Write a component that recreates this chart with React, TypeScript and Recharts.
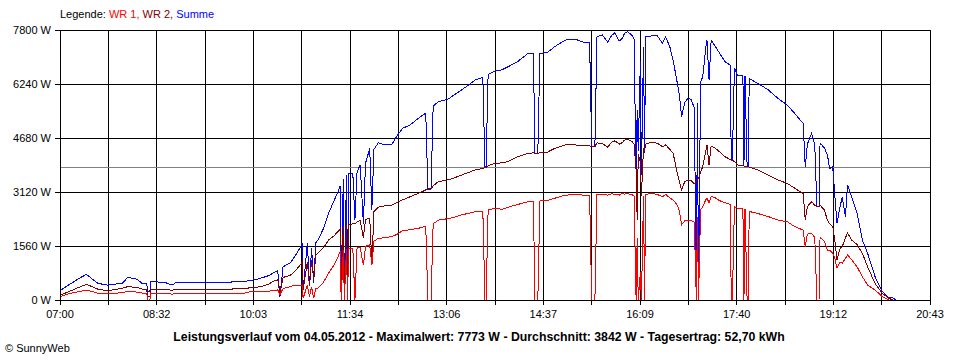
import { LineChart, Line, XAxis, YAxis, CartesianGrid, ReferenceLine } from 'recharts';

// minutes since 07:00
const TIME = [
  0, 9, 19, 25, 30, 36, 45, 52, 59, 64, 73, 78, 82, 83, 85, 86, 99, 106, 110, 132,
  156, 175, 180, 189, 197, 203, 206, 208, 211, 218, 222, 227, 229, 230, 234, 236, 238, 240, 242, 244,
  249, 254, 259, 263, 265, 266, 268, 269, 271, 272, 273, 277, 279, 281, 284, 287, 289, 293, 295, 297,
  301, 307, 314, 319, 324, 331, 339, 346, 348, 351, 353, 358, 367, 374, 380, 386, 393, 400, 402, 403,
  405, 412, 418, 424, 433, 443, 448, 449, 452, 454, 461, 468, 478, 487, 497, 501, 503, 506, 508, 513,
  518, 522, 525, 529, 532, 534, 537, 541, 543, 545, 546, 547, 549, 550, 552, 553, 554, 560, 565, 570,
  573, 577, 580, 584, 586, 588, 591, 594, 597, 600, 602, 603, 604, 606, 608, 611, 612, 614, 616, 620,
  624, 629, 634, 635, 636, 638, 641, 646, 647, 648, 650, 651, 652, 653, 660, 670, 679, 688, 695, 703,
  705, 707, 711, 714, 716, 718, 719, 723, 726, 728, 731, 733, 735, 738, 740, 743, 745, 749, 754, 759,
  764, 771, 778, 784, 788, 791,
];

const WR1 = [
  95, 190, 250, 280, 250, 195, 175, 190, 220, 240, 230, 200, 195, 0, 0, 195, 195, 170, 195, 195,
  195, 200, 240, 240, 250, 280, 290, 150, 330, 385, 430, 430, 430, 50, 430, 100, 380, 50, 330, 340,
  500, 770, 1000, 1250, 1400, 0, 1450, 0, 1480, 0, 1490, 1490, 0, 1500, 1520, 1000, 1550, 1590, 1000, 1700,
  1780, 1800, 1830, 1900, 2000, 2030, 2070, 2130, 0, 0, 2200, 2310, 2350, 2400, 2460, 2500, 2550, 2570, 0, 0,
  2600, 2650, 2620, 2680, 2760, 2840, 2850, 0, 0, 2860, 2870, 2940, 3030, 3040, 3030, 3030, 0, 0, 3060, 3060,
  3030, 3070, 3050, 3030, 3080, 3060, 3070, 3050, 3000, 0, 1800, 0, 800, 0, 3000, 0, 3050, 3080, 3050, 2980,
  3050, 2950, 2890, 2740, 2550, 2170, 2290, 2310, 2300, 2250, 0, 2400, 0, 2600, 2700, 2900, 2950, 2800, 3000, 2950,
  2870, 2810, 2760, 0, 0, 2700, 2650, 2640, 0, 2620, 0, 0, 2560, 2550, 2500, 2410, 2310, 2260, 2120, 2020,
  1540, 1900, 1930, 1810, 0, 0, 1810, 1700, 1440, 1440, 1350, 1200, 920, 1100, 1060, 1200, 1300, 1160, 960, 675,
  430, 290, 95, 0, 0, 0,
];

const WR2 = [
  135, 250, 380, 450, 390, 310, 270, 300, 340, 385, 365, 310, 310, 95, 95, 310, 310, 280, 310, 310,
  310, 330, 355, 380, 450, 560, 580, 200, 650, 720, 820, 1000, 1100, 300, 1100, 400, 1150, 600, 1300, 1350,
  1500, 1730, 1850, 1975, 2050, 385, 2150, 400, 2170, 500, 2170, 2200, 2200, 2250, 2300, 1800, 2330, 2360, 1070, 2550,
  2680, 2720, 2740, 2820, 2890, 2980, 3080, 3180, 3200, 3200, 3300, 3420, 3470, 3540, 3610, 3680, 3760, 3800, 3830, 3830,
  3880, 3950, 3960, 4000, 4140, 4240, 4250, 4240, 4240, 4250, 4270, 4380, 4480, 4480, 4450, 4450, 4430, 4430, 4540, 4520,
  4420, 4560, 4600, 4500, 4550, 4620, 4650, 4580, 4500, 3800, 2300, 4200, 4000, 3000, 4400, 4300, 4500, 4560, 4530, 4430,
  4480, 4350, 4240, 3660, 3400, 3180, 3420, 3470, 3450, 3350, 3400, 3500, 3500, 3700, 3850, 4300, 4480, 3900, 4450, 4380,
  4280, 4140, 4060, 4040, 4040, 4000, 3900, 3880, 3870, 3870, 3860, 3860, 3840, 3830, 3760, 3610, 3470, 3370, 3230, 3080,
  2310, 2700, 2840, 2740, 2700, 2700, 2740, 2600, 2310, 2200, 2120, 1700, 1160, 1500, 1540, 1800, 1930, 1730, 1600, 1350,
  960, 480, 190, 50, 0, 0,
];

const SUMME = [
  270, 450, 640, 740, 620, 480, 430, 460, 480, 655, 600, 470, 470, 240, 240, 530, 510, 430, 510, 510,
  510, 540, 560, 620, 700, 800, 845, 95, 960, 1080, 1250, 1500, 1640, 300, 1640, 400, 1500, 500, 1650, 1730,
  2050, 2500, 2850, 3130, 3300, 385, 3500, 300, 3600, 500, 3660, 3660, 2300, 3700, 3900, 2200, 3950, 4380, 2600, 4350,
  4540, 4480, 4500, 4750, 4960, 5050, 5250, 5400, 3230, 3230, 5600, 5730, 5800, 5950, 6070, 6200, 6360, 6430, 3850, 3850,
  6520, 6620, 6650, 6740, 6890, 7130, 7130, 4240, 4240, 7120, 7150, 7320, 7510, 7540, 7430, 7430, 4430, 4430, 7600, 7660,
  7450, 7650, 7720, 7480, 7560, 7700, 7750, 7650, 7550, 3600, 5500, 4300, 6900, 3600, 7300, 4240, 7600, 7630, 7630, 7420,
  7600, 7300, 6930, 6260, 5900, 5300, 5700, 5830, 5800, 5550, 400, 5700, 300, 6300, 6450, 7300, 7510, 6360, 7500, 7320,
  7130, 6890, 6780, 4040, 4040, 6700, 6500, 6500, 3870, 6480, 3860, 3860, 6400, 6380, 6260, 6070, 5830, 5630, 5390, 5100,
  3850, 4500, 4820, 4480, 2700, 2700, 4530, 4400, 4190, 3800, 3850, 3000, 2220, 2700, 2980, 2400, 3320, 2980, 2500, 1730,
  1350, 675, 240, 65, 60, 0,
];

const TIME_LABELS = ['07:00', '08:32', '10:03', '11:34', '13:06', '14:37', '16:09', '17:40', '19:12', '20:43'];
const Y_TICKS = [0, 1560, 3120, 4680, 6240, 7800];
const AVERAGE = 3842;
const DAY_END = 823;

const data = TIME.map((t, i) => ({ t, wr1: WR1[i], wr2: WR2[i], summe: SUMME[i] }));
const xTicks = Array.from({ length: 19 }, (_, i) => (i * DAY_END) / 18);

const font = '"Liberation Sans", Arial, sans-serif';

// pixel-sharp lines like the old applet chart
const css = `
.recharts-cartesian-grid line,
.recharts-cartesian-axis line,
.recharts-reference-line line,
.recharts-line-curve { shape-rendering: crispEdges; }
`;

const App = () => {
  return (
    <div style={{ position: 'absolute', left: 0, top: 0, width: 960, height: 360, background: '#fff', fontFamily: font }}>
      <style>{css}</style>
      <div style={{ position: 'absolute', left: 60, top: 8, fontSize: 11, color: '#000' }}>
        Legende: <span style={{ color: '#ff0000' }}>WR 1,</span>{' '}
        <span style={{ color: '#800000' }}>WR 2,</span>{' '}
        <span style={{ color: '#0000ff' }}>Summe</span>
      </div>
      <LineChart width={960} height={360} data={data} margin={{ top: 30, right: 30, bottom: 35, left: 0 }}>
        <CartesianGrid stroke="#000" strokeWidth={1} />
        <XAxis
          dataKey="t"
          type="number"
          domain={[0, DAY_END]}
          ticks={xTicks}
          interval={0}
          height={25}
          tickSize={5}
          tickMargin={5}
          stroke="#000"
          tick={{ fill: '#000', fontSize: 11, fontFamily: font }}
          tickFormatter={(v: number, i: number) => (i % 2 === 0 ? TIME_LABELS[i / 2] : '')}
        />
        <YAxis
          type="number"
          domain={[0, 7800]}
          ticks={Y_TICKS}
          interval={0}
          width={60}
          tickSize={5}
          tickMargin={4}
          stroke="#000"
          tick={{ fill: '#000', fontSize: 11, fontFamily: font }}
          tickFormatter={(v: number) => `${v} W`}
        />
        <ReferenceLine y={AVERAGE} stroke="#808080" strokeWidth={1} />
        <Line type="linear" dataKey="summe" stroke="#0000ff" strokeWidth={1} dot={false} isAnimationActive={false} />
        <Line type="linear" dataKey="wr2" stroke="#800000" strokeWidth={1} dot={false} isAnimationActive={false} />
        <Line type="linear" dataKey="wr1" stroke="#ff0000" strokeWidth={1} dot={false} isAnimationActive={false} />
      </LineChart>
      <div style={{ position: 'absolute', left: 0, width: 958, top: 330, textAlign: 'center', fontSize: 12.3, fontWeight: 'bold' }}>
        Leistungsverlauf vom 04.05.2012 - Maximalwert: 7773 W - Durchschnitt: 3842 W - Tagesertrag: 52,70 kWh
      </div>
      <div style={{ position: 'absolute', left: 5, top: 342, fontSize: 11 }}>© SunnyWeb</div>
    </div>
  );
};

export default App;
